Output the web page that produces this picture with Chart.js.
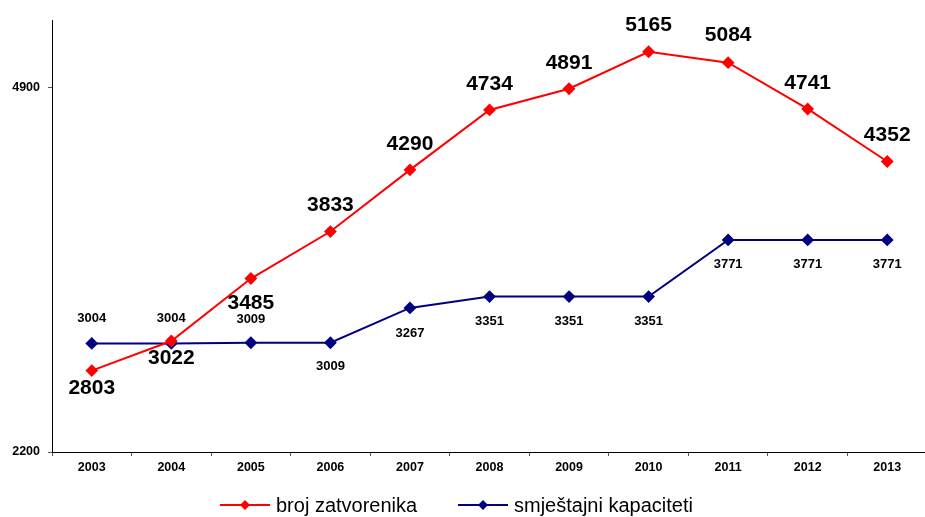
<!DOCTYPE html>
<html>
<head>
<meta charset="utf-8">
<script src="https://cdn.jsdelivr.net/npm/chart.js@4"></script>
<style>
  body { margin: 0; background: #fff; overflow: hidden; }
  #wrap { width: 925px; height: 517px; overflow: hidden; }
</style>
</head>
<body>
<div id="wrap"><canvas id="myChart" width="934" height="517"></canvas></div>
<script>
// podaci
var godine = ['2003','2004','2005','2006','2007','2008','2009','2010','2011','2012','2013'];
var zatvorenici = [2803, 3022, 3485, 3833, 4290, 4734, 4891, 5165, 5084, 4741, 4352];
var kapaciteti = [3004, 3004, 3009, 3009, 3267, 3351, 3351, 3351, 3771, 3771, 3771];
var yTicks = [2200, 4900];
var nazivi = ['broj zatvorenika', 'smještajni kapaciteti'];

// pomak natpisa (minus = iznad tocke)
var pomakCrveni = [18, 17, 25, -26, -26, -26, -26, -27, -27, -26, -26];
var pomakPlavi = [-25, -25, -23, 24, 25, 25, 25, 25, 25, 25, 25];

const natpisi = {
    id: 'natpisi',
    afterDatasetsDraw(chart) {
        const ctx = chart.ctx;
        ctx.save();
        ctx.textAlign = 'center';
        ctx.textBaseline = 'middle';
        ctx.fillStyle = '#000';
        chart.data.datasets.forEach(function(ds, i) {
            var meta = chart.getDatasetMeta(i);
            var pomak = i == 0 ? pomakCrveni : pomakPlavi;
            ctx.font = i == 0 ? 'bold 21px "Liberation Sans", Arial' : 'bold 13px "Liberation Sans", Arial';
            meta.data.forEach(function(p, j) {
                ctx.fillText(ds.data[j], p.x, p.y + pomak[j]);
            });
        });
        // legenda
        var leg = [[220, '#ff0000'], [458, '#000080']];
        ctx.font = '20px "Liberation Sans", Arial';
        ctx.textAlign = 'left';
        leg.forEach(function(l, i) {
            var y = 505;
            ctx.strokeStyle = l[1];
            ctx.lineWidth = 2;
            ctx.beginPath();
            ctx.moveTo(l[0], y);
            ctx.lineTo(l[0] + 50, y);
            ctx.stroke();
            ctx.fillStyle = l[1];
            ctx.beginPath();
            ctx.moveTo(l[0] + 25, y - 5);
            ctx.lineTo(l[0] + 30, y);
            ctx.lineTo(l[0] + 25, y + 5);
            ctx.lineTo(l[0] + 20, y);
            ctx.closePath();
            ctx.fill();
            ctx.fillStyle = '#000';
            ctx.fillText(nazivi[i], l[0] + 56, y + 1);
        });
        ctx.restore();
    }
};

const ctx = document.getElementById('myChart');
new Chart(ctx, {
    type: 'line',
    data: {
        labels: godine,
        datasets: [{
            label: nazivi[0],
            data: zatvorenici,
            borderColor: '#ff0000',
            backgroundColor: '#ff0000',
            borderWidth: 2,
            pointStyle: 'rectRot',
            pointRadius: 5,
            tension: 0
        }, {
            label: nazivi[1],
            data: kapaciteti,
            borderColor: '#000080',
            backgroundColor: '#000080',
            borderWidth: 2,
            pointStyle: 'rectRot',
            pointRadius: 5,
            tension: 0
        }]
    },
    options: {
        responsive: false,
        animation: false,
        layout: { padding: { top: 20, right: 0, left: 0, bottom: 0 } },
        plugins: { legend: { display: false }, tooltip: { enabled: false } },
        scales: {
            x: {
                offset: true,
                grid: { offset: true, drawOnChartArea: false, tickLength: 4, color: '#555' },
                border: { color: '#000', width: 1 },
                ticks: { color: '#000', font: { family: '"Liberation Sans", Arial', size: 12.5, weight: 'bold' }, padding: 4, maxRotation: 0 },
                afterFit: function(s) { s.height = 65; }
            },
            y: {
                min: 2200,
                max: 5400,
                afterBuildTicks: function(s) { s.ticks = yTicks.map(function(v) { return { value: v }; }); },
                grid: { drawOnChartArea: false, tickLength: 4, color: '#555' },
                border: { color: '#000', width: 1 },
                ticks: { color: '#000', font: { family: '"Liberation Sans", Arial', size: 12.5, weight: 'bold' }, padding: 8,
                    callback: function(v) { return String(v); } },
                afterFit: function(s) { s.width = 52; }
            }
        }
    },
    plugins: [natpisi]
});
</script>
</body>
</html>
